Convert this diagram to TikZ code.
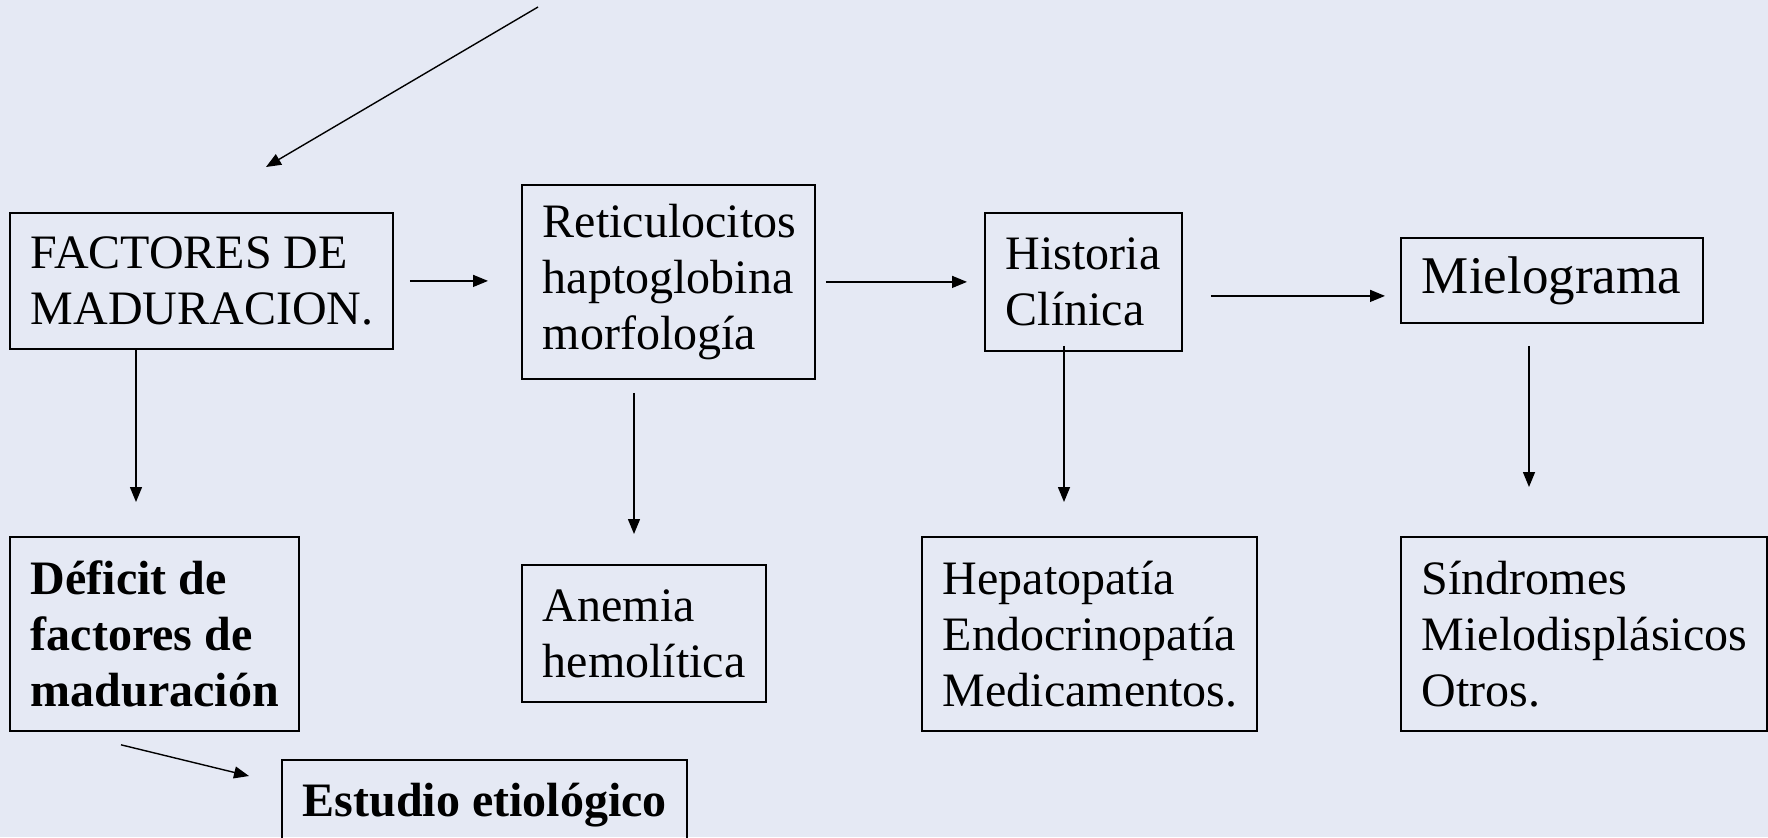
\documentclass[tikz,border=0pt]{standalone}
\usepackage{fontspec}
\setmainfont{Liberation Serif}
\usetikzlibrary{arrows.meta,calc}
\definecolor{bgcol}{RGB}{229,233,244}
\begin{document}
\begin{tikzpicture}[x=0.5pt,y=-0.5pt,
  box/.style={draw=black, line width=0.9pt, anchor=north west, align=flush left,
    inner xsep=10.5pt, inner ysep=0pt, font=\fontsize{24}{28}\selectfont},
  arr/.style={line width=0.7pt, -{Triangle[length=7.5pt,width=6pt]}}]
\fill[bgcol] (0,0) rectangle (1768,837);
\useasboundingbox (0,0) rectangle (1768,837);
% boxes
\node[box, text width=170.5pt, minimum height=68pt] (fact) at (9,212) {FACTORES DE\\MADURACION.};
\node[box, text width=125.5pt, minimum height=97pt] (ret) at (521,184) {Reticulocitos\\haptoglobina\\morfología};
\node[box, text width=77.5pt, minimum height=69pt] (hist) at (984,212) {Historia\\Clínica};
\node[box, text width=130pt, minimum height=42.5pt, font=\fontsize{26.5}{30}\selectfont] (miel) at (1400,237) {Mielograma};
\node[box, text width=123.5pt, minimum height=97pt, font=\fontsize{24}{28}\selectfont\bfseries] (def) at (9,536) {Déficit de\\factores de\\maduración};
\node[box, text width=101pt, minimum height=68.5pt] (anem) at (521,564) {Anemia\\hemolítica};
\node[box, text width=146.5pt, minimum height=97pt] (hep) at (921,536) {Hepatopatía\\Endocrinopatía\\Medicamentos.};
\node[box, text width=162pt, minimum height=97pt] (sin) at (1400,536) {Síndromes\\Mielodisplásicos\\Otros.};
\node[box, text width=181.5pt, minimum height=45.5pt, font=\fontsize{24}{28}\selectfont\bfseries] (est) at (281,759) {\mbox{Estudio etiológico}};
% free ends
\coordinate (top0) at (538,7);
\coordinate (top1) at (266,167);
\coordinate (c1) at (136,502);
\coordinate (c2) at (634,534);
\coordinate (c3) at (1064,502);
\coordinate (c4) at (1529,487);
\coordinate (c5) at (249,776);
% connectors
\draw[arr] (top0) -- (top1);
\draw[arr, shorten <=8pt, shorten >=16.5pt] (fact.east) -- (fact.east -| ret.west);
\draw[arr, shorten <=5pt, shorten >=8.5pt] (ret.east) -- (ret.east -| hist.west);
\draw[arr, shorten <=14pt, shorten >=7.5pt] ([yshift=-7pt]hist.east) -- ([yshift=-7pt]hist.east -| miel.west);
\draw[arr] ([xshift=63.5pt]fact.south west) -- (c1);
\draw[arr, shorten <=6.5pt] ([xshift=56.5pt]ret.south west) -- (c2);
\draw[arr, shorten <=-3pt] ([xshift=40pt]hist.south west) -- (c3);
\draw[arr, shorten <=11pt] ([xshift=64.5pt]miel.south west) -- (c4);
\draw[arr] ([shift={(56pt,-6.5pt)}]def.south west) -- (c5);
\end{tikzpicture}
\end{document}
